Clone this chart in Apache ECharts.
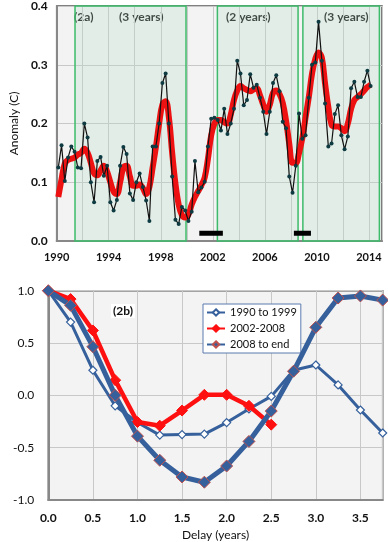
<!DOCTYPE html>
<html>
<head>
<meta charset="utf-8">
<script src="https://cdn.jsdelivr.net/npm/echarts@6/dist/echarts.min.js"></script>
<style>html,body{margin:0;padding:0;background:#fff;}#c{width:388px;height:542px;}</style>
</head>
<body>
<div id="c"></div>
<script>
// ---- Panel 2a data (quarterly) ----
var years = [
 1990.125,1990.375,1990.625,1990.875, 1991.125,1991.375,1991.625,1991.875,
 1992.125,1992.375,1992.625,1992.875, 1993.125,1993.375,1993.625,1993.875,
 1994.125,1994.375,1994.625,1994.875, 1995.125,1995.375,1995.625,1995.875,
 1996.125,1996.375,1996.625,1996.875, 1997.125,1997.375,1997.625,1997.875,
 1998.125,1998.375,1998.625,1998.875, 1999.125,1999.375,1999.625,1999.875,
 2000.125,2000.375,2000.625,2000.875, 2001.125,2001.375,2001.625,2001.875,
 2002.125,2002.375,2002.625,2002.875, 2003.125,2003.375,2003.625,2003.875,
 2004.125,2004.375,2004.625,2004.875, 2005.125,2005.375,2005.625,2005.875,
 2006.125,2006.375,2006.625,2006.875, 2007.125,2007.375,2007.625,2007.875,
 2008.125,2008.375,2008.625,2008.875, 2009.125,2009.375,2009.625,2009.875,
 2010.125,2010.375,2010.625,2010.875, 2011.125,2011.375,2011.625,2011.875,
 2012.125,2012.375,2012.625,2012.875, 2013.125,2013.375,2013.625,2013.875,
 2014.125
];
var anomaly = [
 0.125,0.163,0.102,0.142, 0.161,0.152,0.125,0.124,
 0.200,0.176,0.100,0.066, 0.136,0.143,0.111,0.128,
 0.066,0.052,0.070,0.128, 0.160,0.148,0.081,0.070,
 0.100,0.115,0.092,0.069, 0.034,0.161,0.161,0.200,
 0.269,0.285,0.200,0.110, 0.036,0.029,0.058,0.052,
 0.034,0.050,0.136,0.083, 0.091,0.101,0.161,0.208,
 0.210,0.206,0.188,0.225, 0.182,0.200,0.225,0.307,
 0.285,0.231,0.240,0.284, 0.261,0.266,0.244,0.220,
 0.182,0.220,0.269,0.282, 0.255,0.203,0.192,0.110,
 0.082,0.128,0.217,0.174, 0.180,0.244,0.300,0.304,
 0.373,0.307,0.234,0.161, 0.166,0.216,0.231,0.180,
 0.156,0.178,0.260,0.271, 0.245,0.245,0.271,0.290,
 0.264
];
var smoothed = [
 0.075,0.105,0.132,0.138, 0.140,0.142,0.147,0.150,
 0.157,0.150,0.133,0.115, 0.112,0.120,0.128,0.118,
 0.100,0.084,0.080,0.100, 0.125,0.128,0.110,0.094,
 0.094,0.096,0.090,0.080, 0.092,0.125,0.160,0.200,
 0.232,0.238,0.210,0.150, 0.098,0.062,0.044,0.040,
 0.045,0.062,0.075,0.085, 0.095,0.108,0.140,0.180,
 0.200,0.206,0.206,0.202, 0.200,0.215,0.240,0.256,
 0.264,0.260,0.257,0.255, 0.258,0.260,0.248,0.232,
 0.220,0.232,0.252,0.256, 0.250,0.235,0.205,0.165,
 0.133,0.133,0.150,0.175, 0.210,0.245,0.285,0.310,
 0.321,0.312,0.268,0.228, 0.198,0.195,0.195,0.192,
 0.187,0.200,0.225,0.240, 0.245,0.250,0.256,0.262,
 0.266
];
// periods highlighted (green boxes) and their labels
var boxStarts = [1991.41, 2002.35, 2008.92];
var boxEnds   = [1999.94, 2008.55, 2014.8];
var boxLabels = ['(3 years)', '(2 years)', '(3 years)'];
// black bars
var barStarts = [2000.96, 2008.23];
var barEnds   = [2002.77, 2009.54];
var barLevel  = 0.013;

// ---- Panel 2b data (autocorrelation vs delay) ----
var lags = [0, 0.25, 0.5, 0.75, 1.0, 1.25, 1.5, 1.75, 2.0, 2.25, 2.5, 2.75, 3.0, 3.25, 3.5, 3.75];
var acf1990 = [1.0, 0.70, 0.24, -0.10, -0.26, -0.38, -0.375, -0.37, -0.26, -0.13, -0.01, 0.24, 0.29, 0.10, -0.14, -0.36];
var acf2002 = [1.0, 0.92, 0.62, 0.145, -0.255, -0.29, -0.145, 0.005, 0.005, -0.10, -0.28];
var acf2008 = [1.0, 0.86, 0.465, 0.0, -0.39, -0.62, -0.78, -0.83, -0.675, -0.44, -0.15, 0.23, 0.65, 0.93, 0.95, 0.91];
var seriesNames = ['1990 to 1999', '2002-2008', '2008 to end'];

function pairs(xs, ys){ var out=[]; for (var i=0;i<ys.length;i++) out.push([xs[i], ys[i]]); return out; }

var FONT = 'Lato';
var chart = echarts.init(document.getElementById('c'), null, {renderer:'canvas'});

var areas = [];
for (var i=0;i<boxStarts.length;i++){
  areas.push([{xAxis: boxStarts[i], yAxis: 0}, {xAxis: boxEnds[i], yAxis: 0.4}]);
}
var barSeries = [];
for (var j=0;j<barStarts.length;j++){
  barSeries.push({
    type:'line', xAxisIndex:0, yAxisIndex:0, data:[[barStarts[j], barLevel],[barEnds[j], barLevel]],
    symbol:'none', lineStyle:{color:'#000', width:5}, z:6, silent:true
  });
}

var option = {
  animation:false,
  textStyle:{fontFamily:FONT},
  grid:[
    {left:46.7, right:6, top:3, bottom:301, show:true, backgroundColor:'#f3f3f3', borderColor:'#555', borderWidth:1.5},
    {left:48.3, right:5.3, top:290.7, bottom:42, show:true, backgroundColor:'#f3f3f3', borderColor:'#555', borderWidth:1.5}
  ],
  xAxis:[
    {gridIndex:0, type:'value', min:1990, max:2015, interval:2,
     axisLine:{show:true, onZero:false, lineStyle:{color:'#888', width:2}},
     axisTick:{show:false},
     splitLine:{show:true, lineStyle:{color:'#c8c8c8', width:1}},
     axisLabel:{fontFamily:FONT, fontWeight:'bold', fontSize:11, color:'#111', margin:11, showMaxLabel:false,
       formatter:function(v){ return ((v-1990)%4===0) ? String(v) : ''; }}
    },
    {gridIndex:1, type:'value', min:0, max:3.75, interval:0.5,
     name:'Delay (years)', nameLocation:'middle', nameGap:29,
     nameTextStyle:{fontFamily:FONT, fontSize:12, color:'#111'},
     axisLine:{show:true, onZero:false, lineStyle:{color:'#888', width:2}},
     axisTick:{show:false},
     splitLine:{show:true, lineStyle:{color:'#c8c8c8', width:1}},
     axisLabel:{fontFamily:FONT, fontWeight:'bold', fontSize:12, color:'#111', margin:12, showMaxLabel:false,
       formatter:function(v){ return v.toFixed(1); }}
    }
  ],
  yAxis:[
    {gridIndex:0, type:'value', min:0, max:0.4, interval:0.1,
     name:'Anomaly (C)', nameLocation:'middle', nameGap:34, nameRotate:90,
     nameTextStyle:{fontFamily:FONT, fontSize:12, color:'#111'},
     axisLine:{show:true, lineStyle:{color:'#888', width:2}},
     axisTick:{show:false},
     splitLine:{show:true, lineStyle:{color:'#c8c8c8', width:1}},
     axisLabel:{fontFamily:FONT, fontWeight:'bold', fontSize:12, color:'#111', margin:9,
       formatter:function(v){ return v.toFixed(1); }}
    },
    {gridIndex:1, type:'value', min:-1, max:1, interval:0.5,
     axisLine:{show:true, lineStyle:{color:'#888', width:2}},
     axisTick:{show:false},
     splitLine:{show:true, lineStyle:{color:'#c8c8c8', width:1}},
     axisLabel:{fontFamily:FONT, fontSize:12, color:'#111', margin:14,
       formatter:function(v){ return v.toFixed(1); }}
    }
  ],
  legend:{
    data: seriesNames, orient:'vertical', left:203, top:304,
    backgroundColor:'#fff', borderColor:'#5b7bb0', borderWidth:1, borderRadius:0,
    padding:[3,4,3,3], itemGap:5, itemWidth:18, itemHeight:8,
    textStyle:{fontFamily:FONT, fontSize:11, color:'#111'}
  },
  graphic:[
    {type:'text', left:74, top:11, style:{text:'(2a)', font:'bold 12px Lato', fill:'#111'}},
    {type:'text', left:119, top:11, style:{text:boxLabels[0], font:'bold 12px Lato', fill:'#111'}},
    {type:'text', left:226, top:11, style:{text:boxLabels[1], font:'bold 12px Lato', fill:'#111'}},
    {type:'text', left:324, top:11, style:{text:boxLabels[2], font:'bold 12px Lato', fill:'#111'}},
    {type:'text', left:111, top:304, style:{text:'(2b)', font:'bold 12px Lato', fill:'#111', backgroundColor:'#fff', padding:[1,2]}}
  ],
  series:[
    {type:'line', xAxisIndex:0, yAxisIndex:0, data:pairs(years, smoothed), smooth:0.4,
     symbol:'none', lineStyle:{color:'#ee1111', width:6}, z:3, silent:true,
     markArea:{silent:true, itemStyle:{color:'rgba(180,222,196,0.28)', borderColor:'#3dbb6a', borderWidth:1.5}, data:areas}
    },
    {type:'line', xAxisIndex:0, yAxisIndex:0, data:pairs(years, anomaly),
     symbol:'circle', symbolSize:4, itemStyle:{color:'#0e3a42'}, lineStyle:{color:'#111', width:1.2}, z:4, silent:true},
    {name:seriesNames[0], type:'line', xAxisIndex:1, yAxisIndex:1, data:pairs(lags, acf1990),
     symbol:'diamond', symbolSize:8, lineStyle:{color:'#35609c', width:3},
     itemStyle:{color:'#fff', borderColor:'#35609c', borderWidth:1.2}, z:4},
    {name:seriesNames[1], type:'line', xAxisIndex:1, yAxisIndex:1, data:pairs(lags, acf2002),
     symbol:'diamond', symbolSize:11, lineStyle:{color:'#ff1010', width:4.5},
     itemStyle:{color:'#ff1010', borderColor:'#ff1010', borderWidth:1}, z:5},
    {name:seriesNames[2], type:'line', xAxisIndex:1, yAxisIndex:1, data:pairs(lags, acf2008),
     symbol:'diamond', symbolSize:12, lineStyle:{color:'#35609c', width:5},
     itemStyle:{color:'#35609c', borderColor:'#c0504d', borderWidth:1}, z:6}
  ].concat(barSeries)
};
chart.setOption(option);
</script>
</body>
</html>
